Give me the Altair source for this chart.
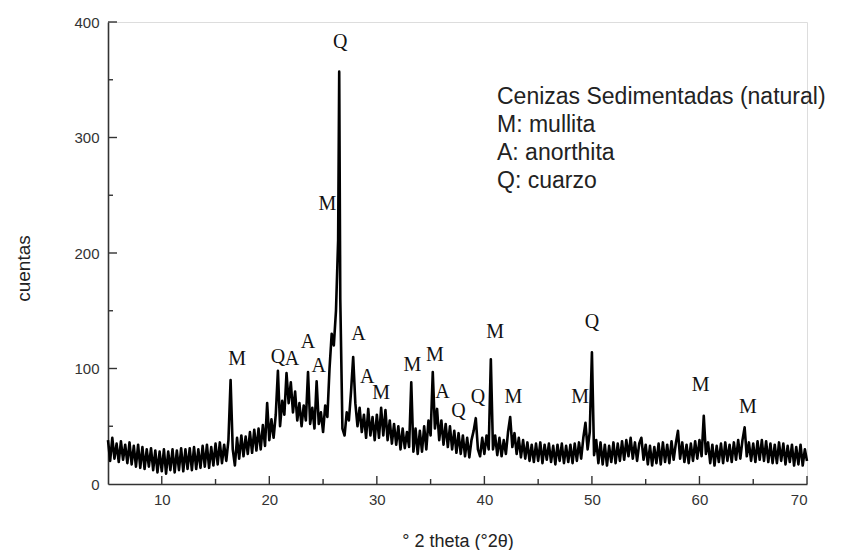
import altair as alt
import pandas as pd

# ---------------- data ----------------
X_START = 5.0
X_STEP = 0.2
# counts at 2θ = 5.0, 5.2, ... 70.0 (5 values per degree)
counts = (
    [38, 20, 40, 22, 35] +      # 5
    [19, 37, 21, 34, 18] +      # 6
    [36, 17, 33, 15, 34] +      # 7
    [14, 32, 13, 30, 15] +      # 8
    [31, 12, 29, 10, 28] +      # 9
    [11, 30, 9, 28, 12] +       # 10
    [30, 10, 29, 12, 31] +      # 11
    [11, 30, 13, 31, 12] +      # 12
    [32, 13, 30, 14, 33] +      # 13
    [15, 34, 14, 32, 16] +      # 14
    [35, 17, 36, 18, 34] +      # 15
    [20, 38, 90, 30, 16] +      # 16
    [40, 22, 42, 24, 41] +      # 17
    [26, 45, 27, 47, 29] +      # 18
    [48, 30, 51, 33, 70] +      # 19
    [38, 56, 40, 60, 98] +      # 20
    [50, 72, 60, 96, 70] +      # 21
    [88, 62, 80, 55, 70] +      # 22
    [50, 68, 55, 97, 52] +      # 23
    [66, 48, 89, 52, 62] +      # 24
    [45, 68, 58, 100, 130] +    # 25
    [120, 150, 211, 160, 48] +  # 26
    [42, 62, 55, 80, 110] +     # 27
    [70, 50, 66, 45, 60] +      # 28
    [40, 65, 42, 58, 38] +      # 29
    [60, 40, 66, 42, 64] +      # 30
    [38, 55, 35, 52, 34] +      # 31
    [50, 30, 48, 31, 45] +      # 32
    [32, 88, 28, 48, 26] +      # 33
    [46, 28, 50, 30, 55] +      # 34
    [42, 97, 48, 65, 38] +      # 35
    [55, 34, 52, 32, 50] +      # 36
    [30, 46, 27, 44, 26] +      # 37
    [42, 24, 40, 23, 38] +      # 38
    [46, 57, 30, 24, 40] +      # 39
    [26, 42, 30, 108, 30] +     # 40
    [42, 25, 40, 24, 38] +      # 41
    [26, 45, 58, 32, 44] +      # 42
    [26, 40, 23, 38, 22] +      # 43
    [36, 20, 34, 19, 35] +      # 44
    [20, 36, 18, 34, 21] +      # 45
    [35, 19, 33, 17, 34] +      # 46
    [20, 35, 18, 33, 19] +      # 47
    [34, 18, 35, 20, 36] +      # 48
    [22, 40, 53, 30, 45] +      # 49
    [114, 25, 38, 18, 36] +     # 50
    [17, 34, 16, 33, 19] +      # 51
    [36, 18, 35, 20, 37] +      # 52
    [21, 38, 24, 40, 22] +      # 53
    [36, 20, 35, 40, 21] +      # 54
    [34, 17, 33, 16, 32] +      # 55
    [18, 35, 17, 36, 19] +      # 56
    [34, 18, 37, 21, 35] +      # 57
    [46, 22, 36, 19, 34] +      # 58
    [18, 35, 20, 37, 22] +      # 59
    [38, 24, 59, 26, 36] +      # 60
    [18, 34, 16, 33, 19] +      # 61
    [35, 18, 36, 20, 34] +      # 62
    [19, 36, 21, 38, 22] +      # 63
    [38, 49, 24, 36, 20] +      # 64
    [35, 19, 37, 21, 38] +      # 65
    [20, 37, 19, 35, 18] +      # 66
    [34, 18, 36, 20, 35] +      # 67
    [17, 33, 19, 34, 16] +      # 68
    [32, 17, 34, 16, 30] +      # 69
    [20]                        # 70
)
# extra sample at the top of the main quartz reflection
peak_x = [26.5]
peak_y = [357]

# phase labels
label_text = ["M", "Q", "A", "A", "A", "M", "Q", "A", "A", "M", "M", "M",
              "A", "Q", "Q", "M", "M", "M", "Q", "M", "M"]
label_x = [17.0, 20.8, 22.1, 23.6, 24.6, 25.4, 26.6, 28.3, 29.1, 30.4, 33.3, 35.4,
           36.1, 37.6, 39.4, 41.0, 42.7, 48.9, 50.0, 60.1, 64.5]
label_y = [108, 110, 108, 123, 102, 242, 383, 130, 93, 79, 103, 112,
           80, 63, 75, 132, 75, 75, 140, 86, 67]

legend_lines = ["Cenizas Sedimentadas (natural)", "M: mullita", "A: anorthita", "Q: cuarzo"]

x_major = [10, 20, 30, 40, 50, 60, 70]
x_minor = [15, 25, 35, 45, 55, 65]
y_major = [100, 200, 300, 400]
y_minor = [50, 150, 250, 350]

# ---------------- chart ----------------
W, H = 699, 462

xs = [round(X_START + X_STEP * i, 1) for i in range(len(counts))]
spec = pd.DataFrame({"x": xs + peak_x, "y": counts + peak_y}).sort_values("x")

xscale = alt.Scale(domain=[5, 70], nice=False, zero=False)
yscale = alt.Scale(domain=[0, 400], nice=False)

line = alt.Chart(spec).mark_line(color="black", strokeWidth=2.6, strokeJoin="round").encode(
    x=alt.X("x:Q", scale=xscale,
            axis=alt.Axis(title="° 2 theta (°2θ)", values=x_major, ticks=False,
                          labelPadding=8, labelFontSize=15, labelColor="#333",
                          labelFont="Liberation Sans",
                          titleFont="Liberation Sans", titleFontSize=18,
                          titleFontWeight="normal", titleColor="#222",
                          titleY=57, titleBaseline="middle",
                          domainColor="#333", domainWidth=1.6, grid=False)),
    y=alt.Y("y:Q", scale=yscale,
            axis=alt.Axis(title="cuentas", values=[0] + y_major, ticks=False,
                          labelPadding=9, labelFontSize=15, labelColor="#333",
                          labelFont="Liberation Sans",
                          titleFont="Liberation Sans", titleFontSize=19,
                          titleFontWeight="normal", titleColor="#222",
                          titleX=-85, titleY=246, titleAngle=270,
                          titleAlign="center", titleBaseline="middle",
                          domainColor="#333", domainWidth=1.6, grid=False)),
)

xt_major = alt.Chart(pd.DataFrame({"x": x_major})).mark_rule(color="#333", strokeWidth=1.4).encode(
    x=alt.X("x:Q", scale=xscale), y=alt.value(H), y2=alt.value(H - 8))
xt_minor = alt.Chart(pd.DataFrame({"x": x_minor})).mark_rule(color="#333", strokeWidth=1.4).encode(
    x=alt.X("x:Q", scale=xscale), y=alt.value(H), y2=alt.value(H - 5))
yt_major = alt.Chart(pd.DataFrame({"y": y_major})).mark_rule(color="#333", strokeWidth=1.4).encode(
    y=alt.Y("y:Q", scale=yscale), x=alt.value(0), x2=alt.value(9))
yt_minor = alt.Chart(pd.DataFrame({"y": y_minor})).mark_rule(color="#333", strokeWidth=1.4).encode(
    y=alt.Y("y:Q", scale=yscale), x=alt.value(0), x2=alt.value(5))

labels = alt.Chart(pd.DataFrame({"t": label_text, "x": label_x, "y": label_y})).mark_text(
    font="Liberation Serif", fontSize=20, color="#111", align="center", baseline="middle"
).encode(x=alt.X("x:Q", scale=xscale), y=alt.Y("y:Q", scale=yscale), text="t:N")

legend = alt.Chart(pd.DataFrame({"k": [0]})).mark_text(
    font="Liberation Sans", fontSize=23, color="#222", align="left", baseline="top",
    lineHeight=28
).encode(x=alt.value(389), y=alt.value(64), text=alt.value(legend_lines))

chart = alt.layer(line, xt_major, xt_minor, yt_major, yt_minor, labels, legend).properties(
    width=W, height=H,
    autosize=alt.AutoSizeParams(type="none"),
    padding={"left": 100, "top": 14, "right": 40, "bottom": 66},
).configure_view(stroke=None).configure(background="white")

chart.save("out.html", embed_options={"renderer": "svg", "actions": False})
